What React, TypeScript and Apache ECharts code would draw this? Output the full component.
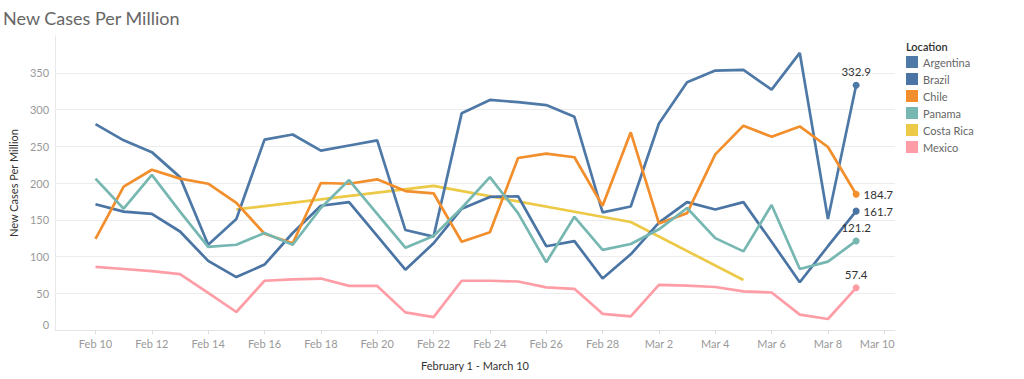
import React, { useEffect, useRef } from "react";
import * as echarts from "echarts";

// Day of "February" numbering: 29 = Mar 1, 37 = Mar 9
const days = [10, 11, 12, 13, 14, 15, 16, 17, 18, 19, 20, 21, 22, 23, 24, 25, 26, 27, 28, 29, 30, 31, 32, 33, 34, 35, 36, 37];
const tickDays = [10, 12, 14, 16, 18, 20, 22, 24, 26, 28, 30, 32, 34, 36, 38];

const argentina = [280, 258, 242, 208, 116, 151, 259, 266, 244, 251, 258, 136, 127, 295, 313, 310, 306, 290, 160, 168, 281, 337, 353, 354, 327, 377, 151, 332.9];
const brazil = [171, 161, 158, 134, 94, 72, 89, 132, 169, 174, 128, 82, 118, 165, 181, 182, 114, 121, 70, 103, 146, 174, 164, 174, 120, 65, 114, 161.7];
const chile = [124, 195, 218, 206, 199, 173, 131, 118, 200, 199, 205, 189, 186, 120, 133, 234, 240, 235, 169, 269, 145, 159, 239, 278, 263, 277, 249, 184.7];
const panama = [206, 165, 211, 161, 113, 116, 132, 116, 166, 204, 158, 112, 128, 166, 208, 159, 92, 154, 109, 117, 137, 166, 125, 107, 170, 83, 93, 121.2];
const costaRicaDays = [15, 22, 29, 33];
const costaRica = [164, 196, 147, 68];
const mexico = [86, 83, 80, 76, 50.5, 24.5, 67, 69, 70, 60, 60, 24, 17.5, 67, 67, 66, 58, 56, 22, 18.5, 61.5, 60.5, 58.5, 52.5, 51, 21, 15, 57.4];

const locations = ["Argentina", "Brazil", "Chile", "Panama", "Costa Rica", "Mexico"];
const colors: Record<string, string> = {
  Argentina: "#4E79A7",
  Brazil: "#4A74A4",
  Chile: "#F28E2B",
  Panama: "#76B7B2",
  "Costa Rica": "#EDC948",
  Mexico: "#FF9DA7",
};

const FONT = "Lato, 'Open Sans', sans-serif";

function fmtDay(v: number): string {
  const d = Math.round(v);
  const s = d <= 28 ? `Feb ${d}` : `Mar ${d - 28}`;
  return d === 38 ? `{last|${s}}` : s;
}

function build(xs: number[], ys: number[], labelPos: string | null) {
  return ys.map((y, i) => {
    if (labelPos && i === ys.length - 1) {
      return {
        value: [xs[i], y],
        symbol: "circle",
        symbolSize: 7,
        label: {
          show: true,
          position: labelPos,
          distance: 4,
          formatter: (p: any) => p.value[1].toFixed(1),
          color: "#333",
          fontSize: 11.5,
          fontFamily: FONT,
        },
      };
    }
    return { value: [xs[i], y], symbol: "none" };
  });
}

export default function App() {
  const ref = useRef<HTMLDivElement>(null);
  useEffect(() => {
    document.body.style.margin = "0";
    const chart = echarts.init(ref.current!, null, { renderer: "svg" });
    const seriesData: Record<string, any[]> = {
      Argentina: build(days, argentina, "top"),
      Brazil: build(days, brazil, "right"),
      Chile: build(days, chile, "right"),
      Panama: build(days, panama, "top"),
      "Costa Rica": build(costaRicaDays, costaRica, null),
      Mexico: build(days, mexico, "top"),
    };
    chart.setOption({
      animation: false,
      textStyle: { fontFamily: FONT },
      title: {
        text: "New Cases Per Million",
        left: 3,
        top: 9,
        padding: 0,
        textStyle: { fontSize: 18, fontWeight: "normal", color: "#666", fontFamily: FONT },
      },
      graphic: [
        {
          type: "text",
          left: 906,
          top: 41,
          style: { text: "Location", fontSize: 11, fontWeight: 600, fill: "#333", fontFamily: FONT },
        },
      ],
      legend: {
        orient: "vertical",
        left: 906,
        top: 56,
        padding: 0,
        itemWidth: 12,
        itemHeight: 12,
        itemGap: 5,
        icon: "rect",
        data: locations,
        textStyle: { color: "#666", fontSize: 11, fontFamily: FONT },
      },
      grid: { left: 50, right: 129, top: 36, bottom: 49, containLabel: false },
      xAxis: {
        type: "value",
        min: 8.564,
        max: 38.38,
        name: "February 1 - March 10",
        nameLocation: "middle",
        nameGap: 30,
        nameTextStyle: { color: "#333", fontSize: 11, fontFamily: FONT },
        axisLine: { show: true, lineStyle: { color: "#e4e4e4" } },
        axisTick: { show: true, length: 4, lineStyle: { color: "#dddddd" }, customValues: tickDays },
        splitLine: { show: false },
        axisLabel: {
          customValues: tickDays,
          formatter: (v: number) => fmtDay(v),
          color: "#999",
          fontSize: 11,
          margin: 8,
          fontFamily: FONT,
          rich: {
            last: { color: "#999", fontSize: 11, fontFamily: FONT, padding: [0, 14, 0, 0] },
          },
        },
      },
      yAxis: {
        type: "value",
        min: 0,
        max: 400,
        interval: 50,
        name: "New Cases Per Million",
        nameLocation: "middle",
        nameGap: 35,
        nameRotate: 90,
        nameTextStyle: { color: "#333", fontSize: 11, fontFamily: FONT },
        axisLine: { show: true, lineStyle: { color: "#e8e8e8" } },
        axisTick: { show: false },
        splitLine: {
          show: true,
          showMaxLine: false,
          lineStyle: {
            color: ["#ececec", "#ececec", "#ececec", "#ececec", "#ececec", "#ececec", "#ececec", "#ececec", "rgba(0,0,0,0)"],
            width: 1,
          },
        },
        axisLabel: {
          color: "#999",
          fontSize: 11,
          margin: 6,
          showMaxLabel: false,
          verticalAlignMinLabel: "bottom",
          fontFamily: FONT,
        },
      },
      series: locations.map((name) => ({
        name,
        type: "line",
        data: seriesData[name],
        showSymbol: true,
        symbol: "none",
        color: colors[name],
        lineStyle: { width: 2.7, color: colors[name] },
        itemStyle: { color: colors[name] },
        emphasis: { disabled: true },
        z: name === "Costa Rica" ? 1 : 2,
      })),
    });
    return () => chart.dispose();
  }, []);
  return <div ref={ref} style={{ width: 1024, height: 379 }} />;
}
